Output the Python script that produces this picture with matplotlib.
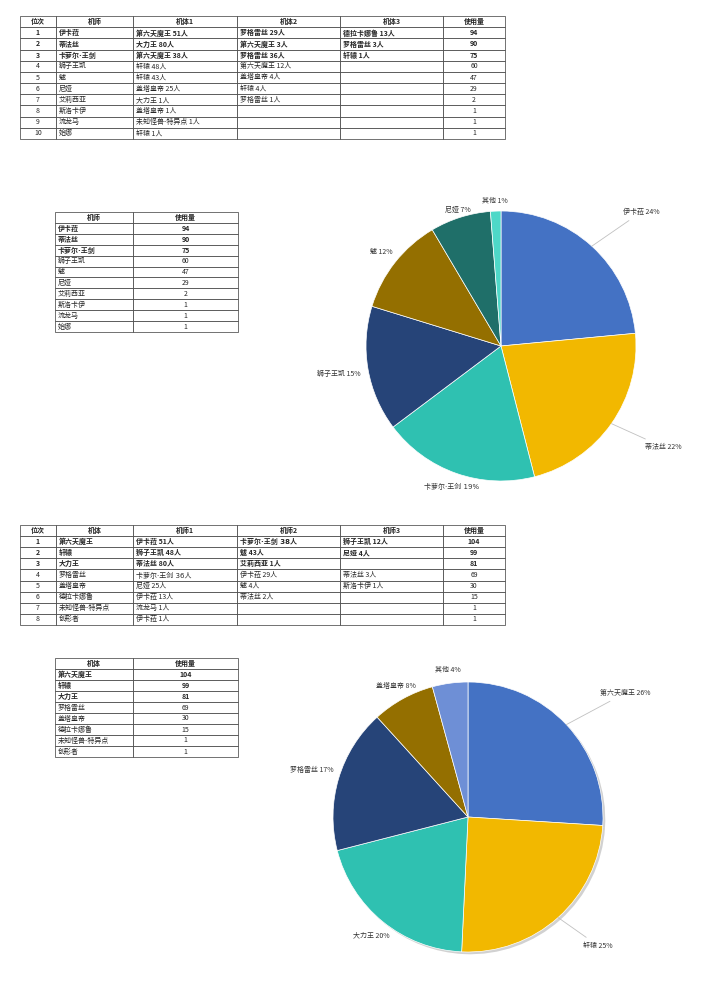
import matplotlib
matplotlib.use('Agg')
import matplotlib.pyplot as plt
import numpy as np
from matplotlib.table import Table

plt.rcParams['font.family'] = ['Noto Sans CJK SC', 'DejaVu Sans']
plt.rcParams['text.color'] = '#262626'

# 机师使用排行
pilot_names = ['伊卡菈', '蒂法丝', '卡萝尔·王剑', '狮子王凯', '魃', '尼娅', '艾莉西亚', '斯洛卡伊', '流龙马', '始娜']
pilot_unit1 = ['第六天魔王 51人', '大力王 80人', '第六天魔王 38人', '轩辕 48人', '轩辕 43人', '盖塔皇帝 25人',
               '大力王 1人', '盖塔皇帝 1人', '未知怪兽-特异点 1人', '轩辕 1人']
pilot_unit2 = ['罗格雷丝 29人', '第六天魔王 3人', '罗格雷丝 36人', '第六天魔王 12人', '盖塔皇帝 4人', '轩辕 4人',
               '罗格雷丝 1人', '', '', '']
pilot_unit3 = ['德拉卡娜鲁 13人', '罗格雷丝 3人', '轩辕 1人', '', '', '', '', '', '', '']
pilot_usage = [94, 90, 75, 60, 47, 29, 2, 1, 1, 1]

# 机体使用排行
unit_names = ['第六天魔王', '轩辕', '大力王', '罗格雷丝', '盖塔皇帝', '德拉卡娜鲁', '未知怪兽-特异点', '创形者']
unit_pilot1 = ['伊卡菈 51人', '狮子王凯 48人', '蒂法丝 80人', '卡萝尔·王剑 36人', '尼娅 25人', '伊卡菈 13人',
               '流龙马 1人', '伊卡菈 1人']
unit_pilot2 = ['卡萝尔·王剑 38人', '魃 43人', '艾莉西亚 1人', '伊卡菈 29人', '魃 4人', '蒂法丝 2人', '', '']
unit_pilot3 = ['狮子王凯 12人', '尼娅 4人', '', '蒂法丝 3人', '斯洛卡伊 1人', '', '', '']
unit_usage = [104, 99, 81, 69, 30, 15, 1, 1]

pilot_pie_top = 6
unit_pie_top = 5

pilot_colors = ['#4472C4', '#F2B800', '#2FC1B1', '#264478', '#946F00', '#1F6F69', '#4ED8C8']
unit_colors = ['#4472C4', '#F2B800', '#2FC1B1', '#264478', '#946F00', '#6E8FD6']

W, H = 720, 992
fig = plt.figure(figsize=(7.2, 9.92), dpi=100)
bg = fig.add_axes([0, 0, 1, 1])
bg.set_xlim(0, W)
bg.set_ylim(H, 0)
bg.axis('off')


def fam(txt):
    # narrow middle dot comes from DejaVu, the rest falls back to the CJK font
    if '·' in txt:
        return ['DejaVu Sans', 'Noto Sans CJK SC']
    return ['Noto Sans CJK SC', 'DejaVu Sans']


def draw_table(x0, y0, x1, y1, col_px, aligns, header, columns, n_bold=3):
    tb = Table(bg, bbox=[x0 / W, 1 - y1 / H, (x1 - x0) / W, (y1 - y0) / H])
    rows = [header] + [list(r) for r in zip(*columns)]
    for r, row in enumerate(rows):
        for c, txt in enumerate(row):
            loc = 'center' if r == 0 else aligns[c]
            cell = tb.add_cell(r, c, width=col_px[c], height=1, text=txt, loc=loc,
                               edgecolor='#3a3a3a', facecolor='white')
            cell.set_linewidth(0.5)
            cell.PAD = 2.5 / col_px[c]
            cell.get_text().set_family(fam(txt))
            if r == 0 or r <= n_bold:
                cell.get_text().set_fontweight('bold')
    tb.auto_set_font_size(False)
    tb.set_fontsize(5)
    bg.add_table(tb)


def draw_pie(cx, cy, r, names, usage, top, colors, dists, leads, shadow=False):
    k = 1.5
    ax = fig.add_axes([(cx - k * r) / W, 1 - (cy + k * r) / H, 2 * k * r / W, 2 * k * r / H])
    vals = usage[:top] + [sum(usage[top:])]
    labels = names[:top] + ['其他']
    total = sum(vals)
    sh = False
    if shadow:
        sh = {'ox': 0.012, 'oy': -0.012, 'facecolor': '#9a9a9a', 'edgecolor': 'none', 'alpha': 0.45}
    wedges, _ = ax.pie(vals, colors=colors, startangle=90, counterclock=False,
                       wedgeprops=dict(edgecolor='white', linewidth=0.5), shadow=sh)
    ax.set_xlim(-k, k)
    ax.set_ylim(-k, k)
    ax.set_aspect('equal')
    ax.axis('off')
    for w, name, v, d, lead in zip(wedges, labels, vals, dists, leads):
        ang = np.deg2rad((w.theta1 + w.theta2) / 2)
        txt = f'{name} {round(v * 100 / total)}%'
        if lead:
            ax.annotate(txt, xy=(np.cos(ang), np.sin(ang)), xytext=(d * np.cos(ang), d * np.sin(ang)),
                        ha='left', va='center', fontsize=5, color='#333333', family=fam(txt),
                        arrowprops=dict(arrowstyle='-', color='#c0c0c0', lw=0.6, shrinkA=2, shrinkB=0))
        else:
            ax.text(d * np.cos(ang), d * np.sin(ang), txt, ha='center', va='center',
                    fontsize=5, color='#333333', family=fam(txt))


cols6 = [36, 77, 104, 103, 103, 62]
al6 = ['center', 'left', 'left', 'left', 'left', 'center']

draw_table(20, 16, 505, 139, cols6, al6, ['位次', '机师', '机体1', '机体2', '机体3', '使用量'],
           [[str(i + 1) for i in range(len(pilot_names))], pilot_names, pilot_unit1, pilot_unit2,
            pilot_unit3, [str(v) for v in pilot_usage]])

draw_table(55, 212, 238, 332, [78, 105], ['left', 'center'], ['机师', '使用量'],
           [pilot_names, [str(v) for v in pilot_usage]])

draw_pie(501, 346, 135, pilot_names, pilot_usage, pilot_pie_top, pilot_colors,
         [1.34, 1.30, 1.10, 1.22, 1.13, 1.06, 1.08],
         [True, True, False, False, False, False, False])

draw_table(20, 525, 505, 625, cols6, al6, ['位次', '机体', '机师1', '机师2', '机师3', '使用量'],
           [[str(i + 1) for i in range(len(unit_names))], unit_names, unit_pilot1, unit_pilot2,
            unit_pilot3, [str(v) for v in unit_usage]])

draw_table(55, 658, 238, 757, [78, 105], ['left', 'center'], ['机体', '使用量'],
           [unit_names, [str(v) for v in unit_usage]])

draw_pie(468, 817, 135, unit_names, unit_usage, unit_pie_top, unit_colors,
         [1.34, 1.28, 1.13, 1.21, 1.11, 1.10],
         [True, True, False, False, False, False], shadow=True)

fig.savefig('out.png', dpi=100, facecolor='white')
